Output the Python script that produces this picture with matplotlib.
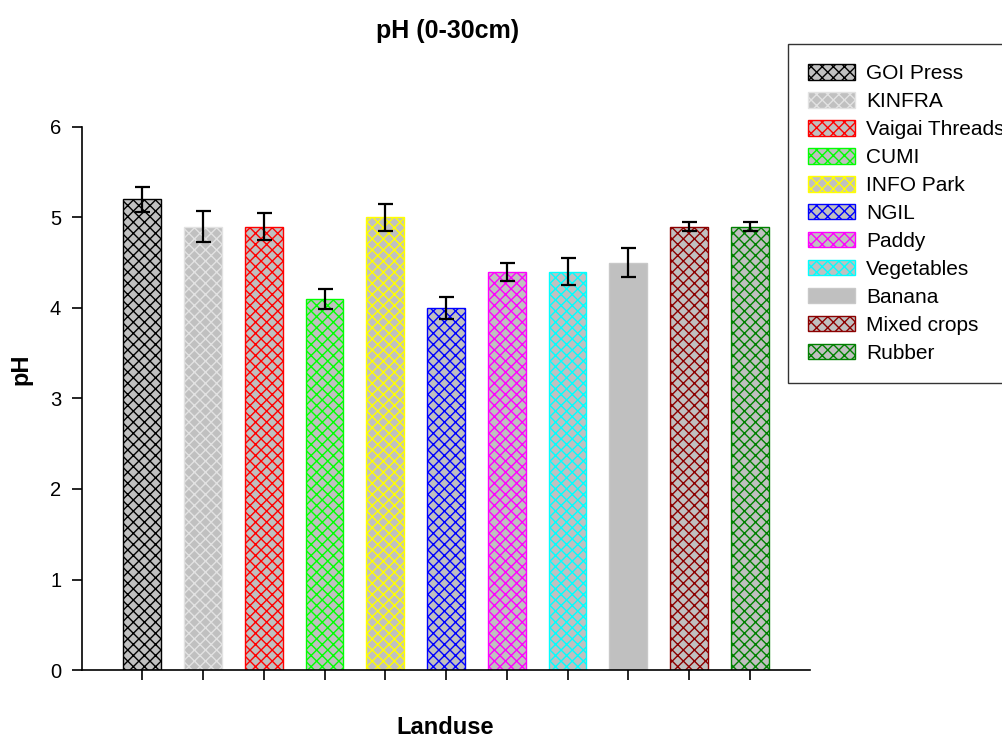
import matplotlib
matplotlib.use("Agg")
import matplotlib.pyplot as plt
from matplotlib.patches import Patch

plt.rcParams["font.family"] = ["Liberation Sans", "DejaVu Sans"]
plt.rcParams["hatch.linewidth"] = 1.0

# data
landuse = ["GOI Press", "KINFRA", "Vaigai Threads", "CUMI", "INFO Park", "NGIL",
           "Paddy", "Vegetables", "Banana", "Mixed crops", "Rubber"]
ph_mean = [5.2, 4.9, 4.9, 4.1, 5.0, 4.0, 4.4, 4.4, 4.5, 4.9, 4.9]
ph_err = [0.14, 0.17, 0.15, 0.11, 0.15, 0.12, 0.10, 0.15, 0.16, 0.05, 0.05]
hatch_colors = ["#000000", "#e2e2e2", "#ff0000", "#00ff00", "#ffff00", "#0000ff",
                "#ff00ff", "#00ffff", "#c8c8c8", "#8b0000", "#008000"]
hatches = ["xxx"] * 8 + [""] + ["xxx"] * 2
fill = "#c0c0c0"

fig = plt.figure(figsize=(10.03, 7.38), dpi=100)
ax = fig.add_axes([0.0818, 0.0921, 0.7258, 0.7359])

x = list(range(len(landuse)))
for i in x:
    ax.bar(i, ph_mean[i], width=0.62, color=fill, edgecolor=hatch_colors[i],
           hatch=hatches[i], linewidth=1.0)
ax.errorbar(x, ph_mean, yerr=ph_err, fmt="none", ecolor="black",
            elinewidth=1.6, capsize=5.4, capthick=1.6)

ax.set_xlim(-0.99, 10.99)
ax.set_ylim(0, 6)
ax.set_yticks([0, 1, 2, 3, 4, 5, 6])
ax.set_xticks(x)
ax.set_xticklabels([])
ax.tick_params(axis="both", direction="out", length=7, width=1.2, labelsize=14.5)
ax.tick_params(axis="y", pad=8)
for s in ["top", "right"]:
    ax.spines[s].set_visible(False)
for s in ["left", "bottom"]:
    ax.spines[s].set_linewidth(1.2)

fig.text(0.446, 0.958, "pH (0-30cm)", ha="center", va="center",
         fontsize=18, fontweight="bold")
fig.text(0.444, 1 - 727 / 738, "Landuse", ha="center", va="center",
         fontsize=17, fontweight="bold")
fig.text(0.021, 0.50, "pH", ha="center", va="center", rotation=90,
         fontsize=17, fontweight="bold")

handles = [Patch(facecolor=fill, edgecolor=hatch_colors[i], hatch=hatches[i],
                 linewidth=1.0) for i in x]
leg = fig.legend(handles, landuse, loc="upper left",
                 bbox_to_anchor=(0.786, 0.940), fontsize=15,
                 frameon=True, fancybox=False, handlelength=2.26,
                 handleheight=0.77, handletextpad=0.53, labelspacing=0.43,
                 borderpad=0.95, borderaxespad=0)
leg.get_frame().set_edgecolor("black")
leg.get_frame().set_linewidth(1.0)

fig.savefig("out.png", dpi=100)
